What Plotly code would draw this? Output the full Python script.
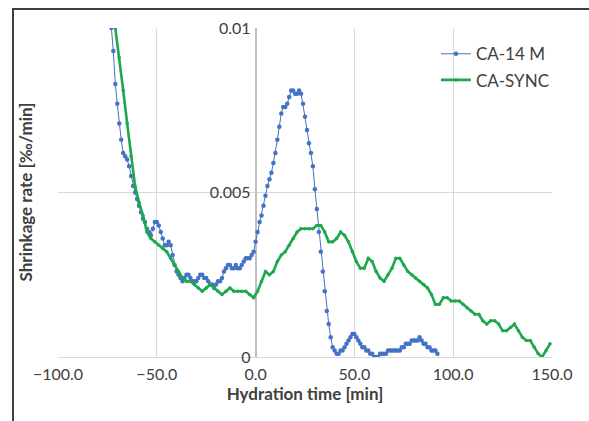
import plotly.graph_objects as go

# ---- data ----
blue_name = "CA-14 M"
blue_t0 = -74  # first time value [min], 1-min sampling
blue_values = [
    0.0104, 0.0100, 0.0093, 0.0083, 0.0077, 0.0071, 0.0066, 0.0062, 0.0061, 0.0060, 0.0058,
    0.0055, 0.0052, 0.0050, 0.0048, 0.0046, 0.0044, 0.0042, 0.0041, 0.0039, 0.0038,
    0.0037, 0.0039, 0.0041, 0.0041, 0.0040, 0.0038, 0.0036, 0.0034, 0.0034, 0.0035,
    0.0034, 0.0031, 0.0028, 0.0026, 0.0025, 0.0024, 0.0023, 0.0024, 0.0025, 0.0025,
    0.0024, 0.0023, 0.0023, 0.0023, 0.0024, 0.0025, 0.0025, 0.0024, 0.0024, 0.0023,
    0.0022, 0.0022, 0.0021, 0.0022, 0.0023, 0.0023, 0.0024, 0.0026, 0.0027, 0.0028,
    0.0028, 0.0027, 0.0027, 0.0028, 0.0027, 0.0027, 0.0028, 0.0029, 0.0030, 0.0030,
    0.0030, 0.0031, 0.0032, 0.0035, 0.0038, 0.0041, 0.0043, 0.0046, 0.0049, 0.0052,
    0.0054, 0.0056, 0.0059, 0.0062, 0.0066, 0.0070, 0.0074, 0.0076, 0.0076, 0.0077,
    0.0079, 0.0081, 0.0081, 0.0080, 0.0080, 0.0081, 0.0080, 0.0077, 0.0073, 0.0069,
    0.0065, 0.0062, 0.0058, 0.0051, 0.0045, 0.0038, 0.0032, 0.0026, 0.0020, 0.0014,
    0.0010, 0.0006, 0.0003, 0.0002, 0.0001, 0.0001, 0.0002, 0.0002, 0.0003, 0.0004,
    0.0005, 0.0006, 0.0007, 0.0007, 0.0006, 0.0005, 0.0004, 0.0003, 0.0003, 0.0002,
    0.0002, 0.0001, 0.0001, 0.0000, 0.0000, 0.0000, 0.0001, 0.0001, 0.0001, 0.0001,
    0.0002, 0.0002, 0.0002, 0.0002, 0.0002, 0.0002, 0.0002, 0.0003, 0.0003, 0.0004,
    0.0004, 0.0004, 0.0005, 0.0005, 0.0005, 0.0005, 0.0006, 0.0005, 0.0004, 0.0004,
    0.0003, 0.0003, 0.0002, 0.0002, 0.0002, 0.0001,
]

green_name = "CA-SYNC"
green_t0 = -71  # first time value [min], 2-min sampling
green_values = [
    0.0100, 0.0091, 0.0081, 0.0071, 0.0061, 0.0052, 0.0047, 0.0043, 0.0038, 0.0036,
    0.0035, 0.0034, 0.0033, 0.0032, 0.0030, 0.0028, 0.0026, 0.0024, 0.0023, 0.0023,
    0.0022, 0.0021, 0.0020, 0.0021, 0.0022, 0.0021, 0.0020, 0.0019, 0.0020, 0.0021,
    0.0020, 0.0020, 0.0020, 0.0020, 0.0019, 0.0018, 0.0020, 0.0023, 0.0026, 0.0025,
    0.0026, 0.0029, 0.0031, 0.0032, 0.0034, 0.0036, 0.0038, 0.0039, 0.0039, 0.0039,
    0.0039, 0.0040, 0.0040, 0.0038, 0.0035, 0.0035, 0.0036, 0.0038, 0.0037, 0.0035,
    0.0032, 0.0029, 0.0027, 0.0027, 0.0030, 0.0029, 0.0026, 0.0024, 0.0023, 0.0025,
    0.0027, 0.0030, 0.0030, 0.0028, 0.0026, 0.0025, 0.0024, 0.0023, 0.0022, 0.0021,
    0.0019, 0.0016, 0.0016, 0.0018, 0.0018, 0.0017, 0.0017, 0.0017, 0.0016, 0.0015,
    0.0014, 0.0013, 0.0013, 0.0011, 0.0010, 0.0011, 0.0011, 0.0010, 0.0008, 0.0008,
    0.0009, 0.0010, 0.0008, 0.0006, 0.0005, 0.0005, 0.0003, 0.0001, 0.0000, 0.0002,
    0.0004,
]

x_tick_values = [-100, -50, 0, 50, 100, 150]
y_tick_values = [0, 0.005, 0.01]
x_title = "Hydration time [min]"
y_title = "Shrinkage rate [‰/min]"

blue_t = [blue_t0 + i for i in range(len(blue_values))]
green_t = [green_t0 + 2 * i for i in range(len(green_values))]

BLUE = "#4472C4"
GREEN = "#1DA84C"
TXT = "#404040"
FONT = "Lato, 'Open Sans', sans-serif"

fig = go.Figure()
fig.add_trace(go.Scatter(
    x=blue_t, y=blue_values, name=blue_name, mode="lines+markers",
    legendgroup="a",
    line=dict(color=BLUE, width=1),
    marker=dict(color=BLUE, size=4.5),
))
fig.add_trace(go.Scatter(
    x=green_t, y=green_values, name=green_name, mode="lines+markers",
    legendgroup="b",
    line=dict(color=GREEN, width=2.6),
    marker=dict(color=GREEN, size=3.5),
))

fig.update_layout(
    width=589, height=421,
    margin=dict(l=58, r=37, t=28, b=64, autoexpand=False),
    paper_bgcolor="white", plot_bgcolor="white",
    font=dict(family=FONT, size=16, color=TXT),
    showlegend=True,
    legend=dict(x=0.765, y=0.975, xanchor="left", yanchor="top",
                bgcolor="rgba(0,0,0,0)", font=dict(size=17, color=TXT),
                itemwidth=30, tracegroupgap=1),
    xaxis=dict(
        range=[-100, 150], tickvals=x_tick_values, tickformat=".1f",
        showgrid=True, gridcolor="#D9D9D9", gridwidth=1,
        zeroline=True, zerolinecolor="#BFBFBF", zerolinewidth=1.5,
        showline=False, ticks="", ticklen=0, automargin=False,
        ticklabelstandoff=6,
        tickfont=dict(size=16, color=TXT),
        title=dict(text="<b>" + x_title + "</b>", font=dict(size=17, color=TXT), standoff=4),
    ),
    yaxis=dict(
        range=[0, 0.01], tickvals=y_tick_values,
        anchor="free", position=0.4, automargin=False,
        showgrid=True, gridcolor="#D9D9D9", gridwidth=1,
        zeroline=True, zerolinecolor="#D9D9D9", zerolinewidth=1,
        showline=False, ticks="",
        tickfont=dict(size=16, color=TXT),
        ticklabelstandoff=5,
    ),
    annotations=[dict(
        text="<b>" + y_title + "</b>", xref="paper", yref="paper",
        x=(25 - 58) / 494, y=0.5, textangle=-90, showarrow=False,
        font=dict(size=17, color=TXT), xanchor="center", yanchor="middle",
    )],
)

frame_js = (
    "document.body.style.margin='0px';"
    "var f=document.createElement('div');"
    "f.style.cssText='position:absolute;left:12px;top:8px;width:640px;height:480px;"
    "border-left:2px solid #404040;border-top:2px solid #404040;pointer-events:none;z-index:10;';"
    "document.body.appendChild(f);"
    "document.body.style.overflow='hidden';"
)

fig.write_html("out.html", config={"displayModeBar": False}, post_script=frame_js)
